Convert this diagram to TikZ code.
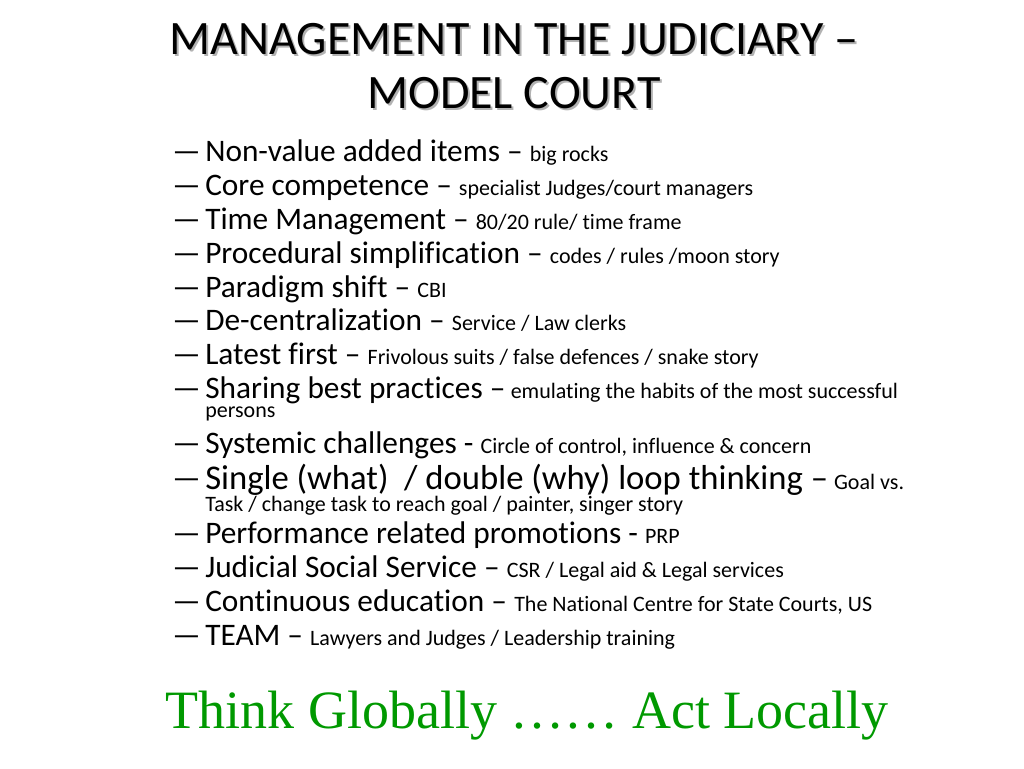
\documentclass[tikz,border=0pt]{standalone}
\usepackage{fontspec}
\setmainfont[Ligatures=NoCommon]{Carlito}
\newfontfamily\serifg{Liberation Serif}
\newcommand\smf{\fontsize{16.5}{18}\selectfont}
\definecolor{slgreen}{RGB}{0,153,0}
\begin{document}
\begin{tikzpicture}[x=0.75pt,y=-0.75pt,
  ttl/.style={font=\fontsize{36}{40}\selectfont,inner sep=0,anchor=base},
  itm/.style={font=\fontsize{23.5}{26}\selectfont,inner sep=0,anchor=base west},
  dsh/.style={font=\fontsize{23.5}{26}\selectfont,inner sep=0,anchor=base west},
  sm/.style={font=\smf}]
\useasboundingbox (0,0) rectangle (1024,768);
\foreach \t/\y [count=\i] in {{MANAGEMENT IN THE JUDICIARY --}/54,{MODEL COURT}/108}{
  \node[ttl,text=gray!60] at (516,\y+2) {\t};
  \node[ttl] (t\i) at (514,\y) {\t};
}
\foreach \y [count=\i] in {161,195,229,263,297,330,364,398,453,488,543,577,611,645}
  \node[dsh] (d\i) at (172,\y) {---};
\node[itm] (i1) at (205,161) {Non-value added items -- {\smf big rocks}};
\node[itm] (i2) at (205,195) {Core competence -- {\smf specialist Judges/court managers}};
\node[itm] (i3) at (205,229) {Time Management -- {\smf 80/20 rule/ time frame}};
\node[itm] (i4) at (205,263) {Procedural simplification -- {\smf codes / rules /moon story}};
\node[itm] (i5) at (205,297) {Paradigm shift -- {\smf CBI}};
\node[itm] (i6) at (205,330) {De-centralization -- {\smf Service / Law clerks}};
\node[itm] (i7) at (205,364) {Latest first -- {\smf Frivolous suits / false defences / snake story}};
\node[itm] (i8) at (205,398) {Sharing best practices --\,{\smf emulating the habits of the most successful}};
\node[itm,sm] (i8b) at (205,417) {persons};
\node[itm] (i9) at (205,453) {Systemic challenges - {\smf Circle of control, influence \& concern}};
\node[itm,font=\fontsize{26}{28}\selectfont] (i10) at (205,489) {Single (what)\ \ / double (why) loop thinking --\,{\smf Goal vs.}};
\node[itm,sm] (i10b) at (205,511) {Task / change task to reach goal / painter, singer story};
\node[itm] (i11) at (205,543) {Performance related promotions - {\smf PRP}};
\node[itm] (i12) at (205,577) {Judicial Social Service -- {\smf CSR / Legal aid \& Legal services}};
\node[itm] (i13) at (205,611) {Continuous education -- {\smf The National Centre for State Courts, US}};
\node[itm] (i14) at (205,645) {TEAM -- {\smf Lawyers and Judges / Leadership training}};
\node[inner sep=0,anchor=base,text=slgreen,font=\serifg\fontsize{40.5}{44}\selectfont] (g) at (527,728) {Think Globally …… Act Locally};
\end{tikzpicture}
\end{document}
